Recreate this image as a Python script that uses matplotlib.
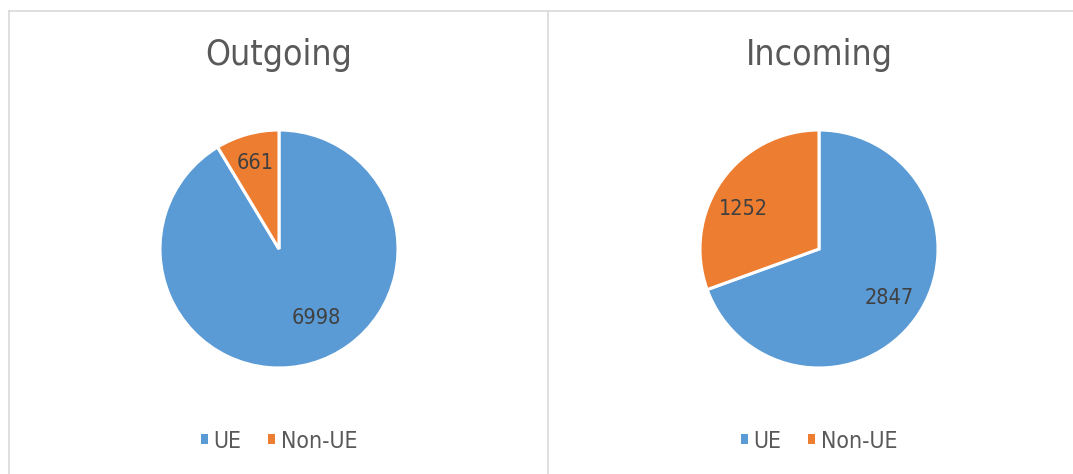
import numpy as np
import matplotlib
matplotlib.use('Agg')
import matplotlib.pyplot as plt
from matplotlib import font_manager
from matplotlib.lines import Line2D
from matplotlib.patches import Patch

# narrow font if available, otherwise plain DejaVu
names = set(f.name for f in font_manager.fontManager.ttflist)
family = 'DejaVu Sans'
for n in ['Liberation Sans Narrow', 'DejaVu Sans Condensed']:
    if n in names:
        family = n
        break
plt.rcParams['font.family'] = [family, 'DejaVu Sans']
if family == 'DejaVu Sans':
    plt.rcParams['font.stretch'] = 'condensed'

categories = ['UE', 'Non-UE']
outgoing = [6998, 661]
incoming = [2847, 1252]
titles = ['Outgoing', 'Incoming']
colors = ['#5B9BD5', '#ED7D31']

W, H = 1073, 474
fig = plt.figure(figsize=(W / 100, H / 100), dpi=100)

centres = [279, 819]
cy = 249
r = 119

title_fs = 25.5
label_fs = 15.5
legend_fs = 16.5


def draw_pie(cx, vals, title, label_offsets):
    ax = fig.add_axes([(cx - r) / W, (H - cy - r) / H, 2 * r / W, 2 * r / H])
    wedges, _ = ax.pie(vals, colors=colors, startangle=90, counterclock=False,
                       radius=1, wedgeprops=dict(edgecolor='white', linewidth=2.2))
    ax.set_xlim(-1, 1)
    ax.set_ylim(-1, 1)
    ax.set_aspect('equal')
    ax.axis('off')
    for w, v, off in zip(wedges, vals, label_offsets):
        ang = np.deg2rad((w.theta1 + w.theta2) / 2 + off[0])
        d = off[1]
        ax.text(d * np.cos(ang), d * np.sin(ang), str(v), ha='center', va='center',
                fontsize=label_fs, color='#404040')
    fig.text(cx / W, 1 - 55 / H, title, ha='center', va='center', fontsize=title_fs, color='#595959')
    handles = [Patch(facecolor=c, edgecolor='none') for c in colors]
    fig.legend(handles, categories, loc='center', bbox_to_anchor=(cx / W, 1 - 441 / H),
               ncol=2, frameon=False, fontsize=legend_fs, labelcolor='#595959',
               handlelength=0.32, handleheight=0.32, handletextpad=0.25, columnspacing=1.15)


draw_pie(centres[0], outgoing, titles[0], [(13, 0.66), (0, 0.75)])
draw_pie(centres[1], incoming, titles[1], [(0, 0.72), (7, 0.72)])

# chart area borders
border = '#D9D9D9'
fig.add_artist(Line2D([8.5 / W, 1], [1 - 10.5 / H, 1 - 10.5 / H], color=border, lw=1.2))
fig.add_artist(Line2D([8.5 / W, 8.5 / W], [0, 1 - 10.5 / H], color=border, lw=1.2))
fig.add_artist(Line2D([548 / W, 548 / W], [0, 1 - 10.5 / H], color=border, lw=1.2))

fig.savefig('out.png', dpi=100)
